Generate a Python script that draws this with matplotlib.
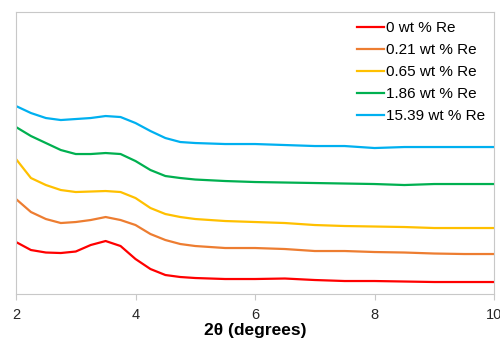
import matplotlib
matplotlib.use('Agg')
import matplotlib.pyplot as plt

plt.rcParams['font.family'] = ['Liberation Sans', 'DejaVu Sans']

two_theta = [2.0, 2.25, 2.5, 2.75, 3.0, 3.25, 3.5, 3.75, 4.0, 4.25, 4.5, 4.75,
             5.0, 5.5, 6.0, 6.5, 7.0, 7.5, 8.0, 8.5, 9.0, 9.5, 10.0]

re_0 = [52, 44, 41.5, 41, 42.5, 49, 53, 48, 35, 25, 19, 17,
        16, 15, 15, 15.5, 14, 13, 13, 12.5, 12, 12, 12]
re_021 = [95, 82, 75, 71, 72, 74, 77, 74, 69, 60, 54, 50,
          48, 46, 46, 45, 43, 43, 42, 41.5, 40.5, 40, 40]
re_065 = [135, 116, 109, 104, 102, 102.5, 103, 102, 96, 86, 80, 77,
          75, 73, 72, 71, 69, 68, 67.5, 67, 66, 66, 66]
re_186 = [167, 158, 151, 144, 140, 140, 141, 140, 133, 124, 118, 116,
          114.5, 113, 112, 111.5, 111, 110.5, 110, 109, 110, 110, 110]
re_1539 = [188, 181, 176, 174, 175, 176, 178, 177, 171, 163, 156, 152,
           151, 150, 150, 149, 148, 148, 146, 147, 147, 147, 147]

labels = ['0 wt % Re', '0.21 wt % Re', '0.65 wt % Re', '1.86 wt % Re', '15.39 wt % Re']
colors = ['#FF0000', '#ED7D31', '#FFC000', '#00B050', '#00B0F0']

fig = plt.figure(figsize=(5, 3.44), dpi=100)
ax = fig.add_axes([0.032, 0.1453, 0.956, 0.8197])

for ys, lab, c in zip([re_0, re_021, re_065, re_186, re_1539], labels, colors):
    ax.plot(two_theta, ys, color=c, lw=1.6, label=lab, solid_joinstyle='round')

ax.set_xlim(2, 10)
ax.set_ylim(0, 282)
ax.set_xticks([2, 4, 6, 8, 10])
ax.set_yticks([])
for s in ax.spines.values():
    s.set_color('#C8C8C8')
ax.tick_params(axis='x', colors='#C8C8C8', length=4, pad=6, labelsize=10.5, labelcolor='#262626')
ax.set_xlabel('2θ (degrees)', fontsize=12.5, fontweight='bold', labelpad=1)

ax.legend(loc='upper right', bbox_to_anchor=(1.0, 1.0), frameon=False, fontsize=11,
          handlelength=1.75, handletextpad=0.1, labelspacing=0.52, borderaxespad=0.2)

fig.savefig('out.png', dpi=100)
